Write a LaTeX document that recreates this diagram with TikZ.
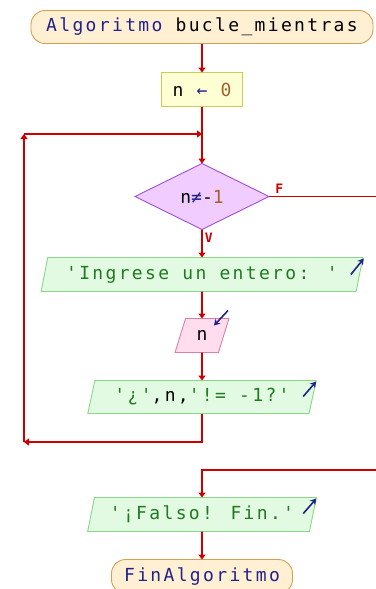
\documentclass[tikz,border=0pt]{standalone}
\usepackage{fontspec}
\usetikzlibrary{shapes.geometric, arrows.meta, positioning}
\newfontfamily\codefont[LetterSpace=13]{DejaVu Sans Mono}
\definecolor{flowred}{HTML}{CC0000}
\definecolor{kwnavy}{HTML}{22228C}
\definecolor{numbrown}{HTML}{A0622D}
\definecolor{outgreen}{HTML}{207A20}
\tikzset{
    base/.style = {
        line width=0.9pt, text centered, inner sep=0pt, outer sep=0pt,
        font=\codefont\fontsize{18}{20}\selectfont
    },
    % Components
    terminal/.style = {base, rectangle, rounded corners=14pt, draw={rgb,255:red,212;green,160;blue,80},
                       fill={rgb,255:red,255;green,240;blue,212}, minimum height=33pt},
    assign/.style   = {base, rectangle, draw={rgb,255:red,204;green,204;blue,85},
                       fill={rgb,255:red,255;green,255;blue,212}, minimum width=81pt, minimum height=34pt},
    decision/.style = {base, diamond, aspect=2, draw={rgb,255:red,160;green,80;blue,216},
                       fill={rgb,255:red,240;green,204;blue,255}, minimum width=134pt, minimum height=66pt},
    output/.style   = {base, trapezium, trapezium left angle=71, trapezium right angle=109,
                       trapezium stretches=true, draw={rgb,255:red,136;green,216;blue,136},
                       fill={rgb,255:red,226;green,250;blue,226}, text=outgreen, minimum height=34pt},
    input/.style    = {base, trapezium, trapezium left angle=71, trapezium right angle=109,
                       trapezium stretches=true, draw={rgb,255:red,216;green,128;blue,168},
                       fill={rgb,255:red,255;green,221;blue,238}, minimum width=54pt, minimum height=34pt},
    % Edges and annotations
    flow/.style   = {line width=1.6pt, flowred, -{Triangle[width=7pt,length=5pt]}},
    line/.style   = {line width=1.6pt, flowred},
    branch/.style = {font=\codefont\bfseries\fontsize{13}{14}\selectfont, text=flowred, inner sep=2pt},
    ioicon/.style = {line width=1.6pt, kwnavy, -{Stealth[width=7pt,length=6pt]}}
}
\begin{document}
\begin{tikzpicture}[x=1pt, y=-1pt]
    \useasboundingbox (0,0) rectangle (375,589);

    \node (inicio) [terminal, minimum width=342pt] at (202,27) {\textcolor{kwnavy}{Algoritmo} bucle\_mientras};
    \node (asigna) [assign, below=29pt of inicio] {n \textcolor{kwnavy}{←} \textcolor{numbrown}{0}};
    \node (cond) [decision, below=57pt of asigna] {n\textcolor{kwnavy}{≠}-\textcolor{numbrown}{1}};
    \node (pide) [output, below=28pt of cond, minimum width=322pt] {'Ingrese un entero: '};
    \node (lee) [input, below=27pt of pide] {n};
    \node (muestra) [output, below=28pt of lee, minimum width=229pt, minimum height=33pt]
        {'¿'\textcolor{black}{,n,}'!= -1?'};
    \node (falso) [output, below=84pt of muestra, minimum width=229pt] {'¡Falso! Fin.'};
    \node (fin) [terminal, below=28pt of falso, minimum width=181pt, minimum height=34pt] {\textcolor{kwnavy}{FinAlgoritmo}};

    % Loop corners
    \coordinate (loopbl) at (24,442);
    \coordinate (looptl) at (24,134);
    \coordinate (loopjn) at (202,134);
    \coordinate (falsor) at (390,470);

    \draw [flow] (inicio) -- (asigna);
    \draw [flow] (asigna) -- (cond);
    \draw [flow] (cond) -- node[branch, pos=0.3, right] {V} (pide);
    \draw [flow] (pide) -- (lee);
    \draw [flow] (lee) -- (muestra);
    % Back edge of the loop
    \draw [flow] (muestra.south) |- (loopbl);
    \draw [flow] (loopbl) -- (looptl);
    \draw [flow] (looptl) -- (loopjn);
    % Exit when the condition fails
    \draw [line] (cond.east) -- node[branch, pos=0.03, above right] {F} (cond.east -| falsor) -- (falsor);
    \draw [flow] (falsor) -| (falso.north);
    \draw [flow] (falso) -- (fin);

    % Input / output marks
    \draw [ioicon] ([xshift=-12pt, yshift=-17pt]pide.top right corner) -- ++(13,-16);
    \draw [ioicon] ([xshift=-13pt, yshift=-16pt]muestra.top right corner) -- ++(13,-15);
    \draw [ioicon] ([xshift=-13pt, yshift=-16pt]falso.top right corner) -- ++(13,-15);
    \draw [ioicon] ([xshift=-1pt, yshift=8pt]lee.top right corner) -- ++(-14,15);
\end{tikzpicture}
\end{document}
